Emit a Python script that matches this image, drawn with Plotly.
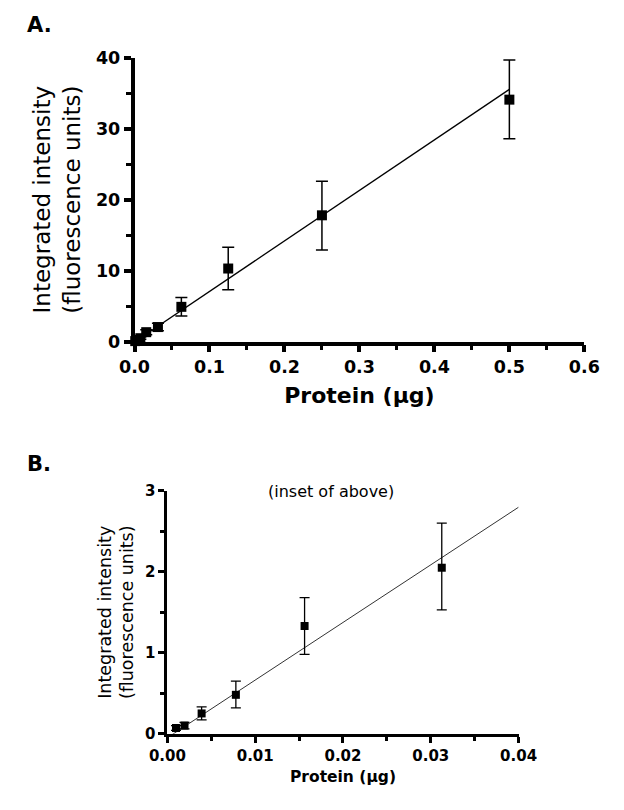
import plotly.graph_objects as go

# Data
protein_ug = [0.00098, 0.00195, 0.0039, 0.0078, 0.015625, 0.03125, 0.0625, 0.125, 0.25, 0.5]
intensity = [0.07, 0.10, 0.25, 0.48, 1.33, 2.05, 4.9, 10.3, 17.8, 34.1]
err_plus = [0.03, 0.04, 0.08, 0.17, 0.35, 0.55, 1.3, 3.0, 4.8, 5.6]
err_minus = [0.03, 0.04, 0.08, 0.16, 0.35, 0.52, 1.3, 3.0, 4.9, 5.5]

inset_n = 6  # first six points shown in the inset
fit_slope = 71.2
fit_intercept = -0.05
fit_x_A = [0.0, 0.5]
fit_x_B = [0.0, 0.04]

W, H = 624, 810
FONT = "DejaVu Sans, Verdana, sans-serif"


def px_x(v):
    return v / W


def px_y(v):
    return 1 - v / H


fig = go.Figure()

# Panel A
fig.add_trace(go.Scatter(
    x=fit_x_A, y=[fit_slope * x + fit_intercept for x in fit_x_A],
    mode="lines", line=dict(color="black", width=1.3),
    xaxis="x", yaxis="y", showlegend=False, hoverinfo="skip", cliponaxis=False))
fig.add_trace(go.Scatter(
    x=protein_ug, y=intensity, mode="markers",
    marker=dict(symbol="square", size=10, color="black"),
    error_y=dict(type="data", array=err_plus, arrayminus=err_minus,
                 color="black", thickness=1.5, width=6),
    xaxis="x", yaxis="y", showlegend=False, cliponaxis=False))

# Panel B
fig.add_trace(go.Scatter(
    x=fit_x_B, y=[fit_slope * x + fit_intercept for x in fit_x_B],
    mode="lines", line=dict(color="#333333", width=1.0),
    xaxis="x2", yaxis="y2", showlegend=False, hoverinfo="skip", cliponaxis=False))
fig.add_trace(go.Scatter(
    x=protein_ug[:inset_n], y=intensity[:inset_n], mode="markers",
    marker=dict(symbol="square", size=8, color="black"),
    error_y=dict(type="data", array=err_plus[:inset_n], arrayminus=err_minus[:inset_n],
                 color="black", thickness=1.3, width=5),
    xaxis="x2", yaxis="y2", showlegend=False, cliponaxis=False))

axis_common = dict(showline=True, linecolor="black", ticks="outside",
                   tickcolor="black", showgrid=False, zeroline=False)

fig.update_layout(
    width=W, height=H,
    margin=dict(l=0, r=0, t=0, b=0),
    paper_bgcolor="white", plot_bgcolor="white",
    font=dict(family=FONT, color="black"),
    xaxis=dict(**axis_common, linewidth=3.5, tickwidth=3.5,
               domain=[px_x(123), px_x(602)], range=[0, 0.6],
               tickvals=[0, 0.1, 0.2, 0.3, 0.4, 0.5, 0.6],
               ticktext=["0.0", "0.1", "0.2", "0.3", "0.4", "0.5", "0.6"],
               ticklen=7, anchor="y",
               tickfont=dict(size=17.5, family=FONT, weight="bold"),
               minor=dict(ticks="outside", ticklen=5, tickwidth=3, tickcolor="black", dtick=0.05, tick0=0),
               title=dict(text="Protein (μg)", font=dict(size=22, family=FONT, weight="bold"), standoff=12)),
    yaxis=dict(**axis_common, linewidth=3.5, tickwidth=3.5,
               domain=[px_y(340), px_y(49)], range=[0, 40],
               tickvals=[0, 10, 20, 30, 40], ticklen=7, anchor="x",
               tickfont=dict(size=17.5, family=FONT, weight="bold"),
               minor=dict(ticks="outside", ticklen=5, tickwidth=3, tickcolor="black", dtick=5, tick0=0),
               title=dict(text="Integrated intensity<br>(fluorescence units)",
                          font=dict(size=23, family=FONT), standoff=10)),
    xaxis2=dict(**axis_common, linewidth=3, tickwidth=3,
                domain=[px_x(158), px_x(532)], range=[0, 0.04],
                tickvals=[0, 0.01, 0.02, 0.03, 0.04],
                ticktext=["0.00", "0.01", "0.02", "0.03", "0.04"],
                ticklen=6, anchor="y2",
                tickfont=dict(size=15, family=FONT, weight="bold"),
                minor=dict(ticks="outside", ticklen=4, tickwidth=2.5, tickcolor="black", dtick=0.005, tick0=0),
                title=dict(text="Protein (μg)", font=dict(size=15.5, family=FONT, weight="bold"), standoff=8)),
    yaxis2=dict(**axis_common, linewidth=3, tickwidth=3,
                domain=[px_y(742), px_y(493)], range=[0, 3],
                tickvals=[0, 1, 2, 3], ticklen=6, anchor="x2",
                tickfont=dict(size=15, family=FONT, weight="bold"),
                minor=dict(ticks="outside", ticklen=4, tickwidth=2.5, tickcolor="black", dtick=0.5, tick0=0),
                title=dict(text="Integrated intensity<br>(fluorescence units)",
                           font=dict(size=17.5, family=FONT), standoff=7)),
    annotations=[
        dict(text="<b>A.</b>", x=px_x(6), y=px_y(15), xref="paper", yref="paper",
             showarrow=False, xanchor="left", yanchor="middle", font=dict(size=21)),
        dict(text="<b>B.</b>", x=px_x(6), y=px_y(466), xref="paper", yref="paper",
             showarrow=False, xanchor="left", yanchor="middle", font=dict(size=21)),
        dict(text="(inset of above)", x=px_x(263), y=px_y(494), xref="paper", yref="paper",
             showarrow=False, xanchor="left", yanchor="middle", font=dict(size=16)),
    ],
)

fig.write_html("out.html",
               config={"displayModeBar": False},
               post_script="document.body.style.margin='0';document.body.style.overflow='hidden';")
